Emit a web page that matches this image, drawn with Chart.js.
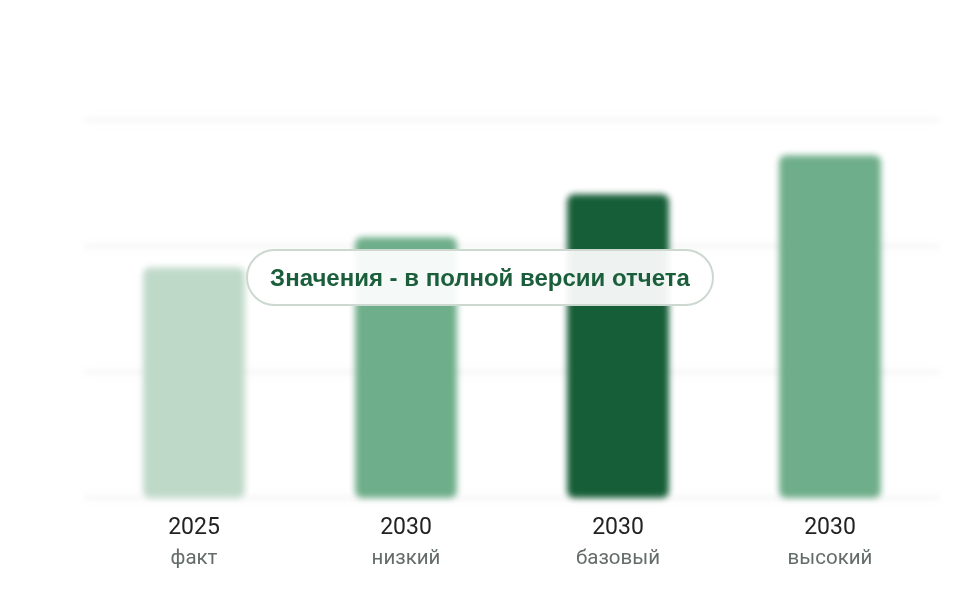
<!DOCTYPE html>
<html><head><meta charset="utf-8">
<script src="https://cdn.jsdelivr.net/npm/chart.js@4"></script>
<style>
html,body{margin:0;padding:0;background:#fff;}
#wrap{position:relative;width:960px;height:600px;}
#pill{position:absolute;left:246px;top:249px;width:464px;height:53px;border:2px solid #ccd8d0;border-radius:30px;
background:rgba(255,255,255,0.93);display:flex;align-items:center;justify-content:center;
font-family:"Liberation Sans",Arial,sans-serif;font-weight:bold;font-size:24px;color:#1b5e3b;}
</style></head>
<body>
<div id="wrap"><canvas id="c" width="960" height="600"></canvas>
<div id="pill">Значения - в полной версии отчета</div></div>
<script>
const years = ["2025", "2030", "2030", "2030"];
const scenarios = ["факт", "низкий", "базовый", "высокий"];
const values = [1.83, 2.07, 2.41, 2.72];
const yTicks = [0, 1, 2, 3];

const blurPlugin = {
  id: 'blurBars',
  beforeDatasetsDraw(chart) {
    const ctx = chart.ctx, y = chart.scales.y, a = chart.chartArea;
    ctx.save();
    ctx.filter = 'blur(3px)';
    ctx.strokeStyle = '#f1f1f1';
    ctx.lineWidth = 3;
    yTicks.forEach(v => {
      const py = y.getPixelForValue(v);
      ctx.beginPath(); ctx.moveTo(a.left - 4, py); ctx.lineTo(a.right + 4, py); ctx.stroke();
    });
  },
  afterDatasetsDraw(chart) { chart.ctx.restore(); }
};

new Chart(document.getElementById('c'), {
  type: 'bar',
  data: {
    labels: years,
    datasets: [{
      data: values,
      xAxisID: 'x',
      backgroundColor: ['#bfd9c9', '#6fae8a', '#165e38', '#6fae8a'],
      borderRadius: 7,
      borderSkipped: false,
      categoryPercentage: 1,
      barPercentage: 0.48,
      clip: false
    }]
  },
  options: {
    responsive: false,
    animation: false,
    devicePixelRatio: 1,
    layout: { padding: { left: 88, right: 24, top: 120, bottom: 24 } },
    plugins: { legend: { display: false }, tooltip: { enabled: false } },
    scales: {
      y: { display: false, min: 0, max: 3, ticks: { stepSize: 1 } },
      x: {
        weight: 1,
        grid: { display: false, drawTicks: false },
        border: { display: false },
        ticks: { padding: 16, color: '#222222', font: { family: 'Roboto', size: 23 } },
        afterFit(s) { s.height = 46; }
      },
      x2: {
        type: 'category',
        labels: scenarios,
        position: 'bottom',
        weight: 2,
        grid: { display: false, drawTicks: false },
        border: { display: false },
        ticks: { padding: 3, color: '#646c69', font: { family: 'Roboto', size: 20.5 } },
        afterFit(s) { s.height = 32; }
      }
    }
  },
  plugins: [blurPlugin]
});
</script>
</body></html>
